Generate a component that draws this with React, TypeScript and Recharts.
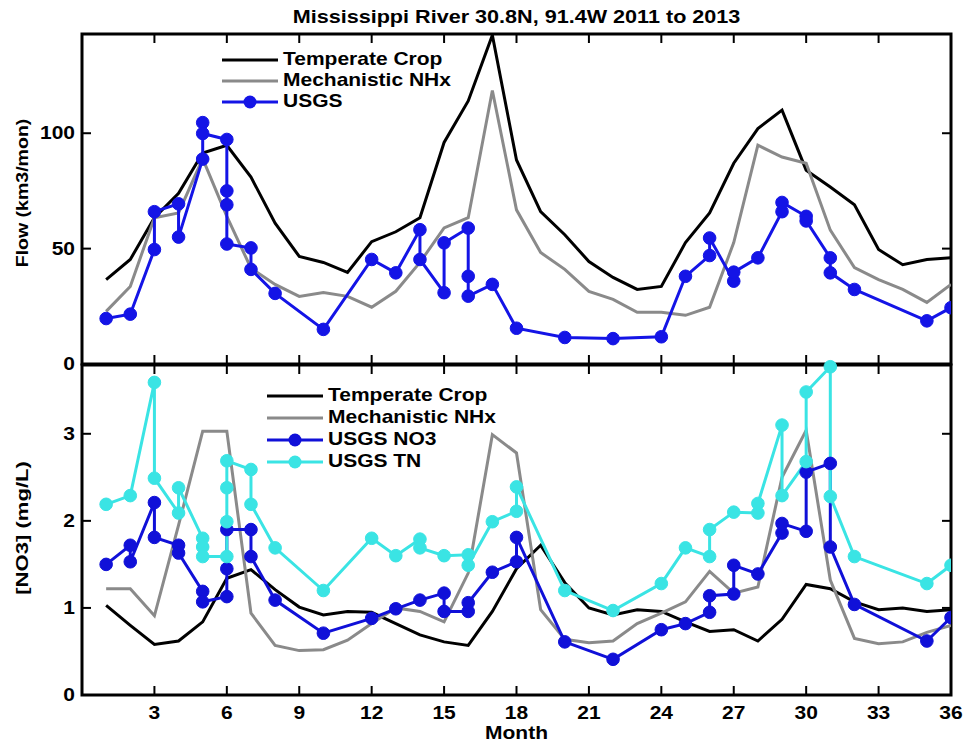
import React from 'react';
import { LineChart, Line, XAxis, YAxis } from 'recharts';

// ---------- data ----------
const months = [1, 2, 3, 4, 5, 6, 7, 8, 9, 10, 11, 12, 13, 14, 15, 16, 17, 18, 19, 20, 21, 22, 23, 24, 25, 26, 27, 28, 29, 30, 31, 32, 33, 34, 35, 36];

const flowTemperateCrop = [36.6, 45.3, 63.4, 74, 91.4, 94.8, 81, 61, 46.6, 44, 39.7, 53, 57.3, 63.4, 96, 114, 142.5, 88.4, 66, 56, 44.4, 37.5, 32.3, 33.6, 52.6, 65.5, 87, 102, 110, 84, 76.7, 69, 49.6, 43, 45.3, 46];
const flowMechanisticNHx = [22.8, 33.6, 63.4, 65.5, 89, 64, 41.5, 34.5, 29.3, 31, 29.3, 24.6, 31.5, 44, 59, 63.4, 118.5, 66.8, 48.3, 41, 31.5, 28, 22.4, 22.4, 21.1, 24.6, 52.6, 94.8, 89.7, 87, 58, 41.8, 36.6, 32.3, 26.7, 34.5];
const flowUsgsMonth = [1, 2, 3, 3, 4, 4, 5, 5, 5, 6, 6, 6, 6, 7, 7, 8, 10, 12, 13, 14, 14, 15, 15, 16, 16, 16, 17, 18, 20, 22, 24, 25, 26, 26, 27, 27, 28, 29, 29, 30, 30, 31, 31, 32, 35, 36];
const flowUsgsValue = [19.7, 21.6, 49.6, 66, 69.4, 55, 88.8, 104.6, 99.9, 97.3, 75, 69, 52, 50.3, 41, 30.6, 15, 45.3, 39.5, 58.2, 45.3, 30.9, 52.5, 58.9, 38, 29.4, 34.5, 15.5, 11.5, 11, 11.8, 38, 47, 54.6, 35.9, 39.8, 46, 66, 70, 64, 62, 46, 39.5, 32.3, 18.7, 24.4];

const no3TemperateCrop = [1.03, 0.8, 0.58, 0.62, 0.84, 1.34, 1.44, 1.21, 1.01, 0.92, 0.96, 0.95, 0.82, 0.69, 0.61, 0.57, 0.96, 1.45, 1.72, 1.29, 1.0, 0.92, 0.98, 0.96, 0.84, 0.73, 0.75, 0.62, 0.87, 1.27, 1.22, 1.07, 0.98, 1.0, 0.96, 0.98];
const no3MechanisticNHx = [1.22, 1.22, 0.91, 1.95, 3.03, 3.03, 0.94, 0.57, 0.51, 0.52, 0.63, 0.82, 1.0, 0.96, 0.84, 1.4, 2.99, 2.78, 0.98, 0.64, 0.6, 0.62, 0.82, 0.94, 1.07, 1.42, 1.17, 1.24, 2.5, 3.04, 1.32, 0.65, 0.59, 0.61, 0.72, 0.8];
const no3UsgsMonth = [1, 2, 2, 3, 3, 4, 4, 5, 5, 6, 6, 6, 7, 7, 8, 10, 12, 13, 14, 15, 15, 16, 16, 17, 18, 18, 20, 22, 24, 25, 26, 26, 27, 27, 28, 29, 29, 30, 30, 31, 31, 32, 35, 36];
const no3UsgsValue = [1.5, 1.72, 1.53, 2.21, 1.81, 1.72, 1.63, 1.19, 1.07, 1.13, 1.45, 1.9, 1.9, 1.59, 1.09, 0.71, 0.88, 0.99, 1.09, 1.17, 0.96, 0.96, 1.06, 1.41, 1.53, 1.81, 0.61, 0.41, 0.75, 0.82, 0.95, 1.14, 1.16, 1.49, 1.39, 1.86, 1.97, 1.88, 2.56, 2.66, 1.7, 1.04, 0.62, 0.89];
const tnUsgsMonth = [1, 2, 3, 3, 4, 4, 5, 5, 5, 6, 6, 6, 6, 7, 7, 8, 10, 12, 13, 14, 14, 15, 16, 16, 17, 18, 18, 20, 22, 24, 25, 26, 26, 27, 28, 28, 29, 29, 30, 30, 31, 31, 32, 35, 36];
const tnUsgsValue = [2.19, 2.29, 3.59, 2.49, 2.09, 2.38, 1.8, 1.7, 1.59, 1.59, 1.99, 2.38, 2.69, 2.59, 2.19, 1.69, 1.2, 1.8, 1.6, 1.79, 1.69, 1.6, 1.61, 1.49, 1.99, 2.11, 2.39, 1.2, 0.97, 1.28, 1.69, 1.59, 1.9, 2.1, 2.09, 2.2, 3.1, 2.29, 2.68, 3.48, 3.77, 2.28, 1.59, 1.28, 1.49];

const monthTicks = [3, 6, 9, 12, 15, 18, 21, 24, 27, 30, 33, 36];
const flowTicks = [0, 50, 100];
const no3Ticks = [0, 1, 2, 3];

const titleText = 'Mississippi River 30.8N, 91.4W 2011 to 2013';
const xTitle = 'Month';
const flowTitle = 'Flow (km3/mon)';
const no3Title = '[NO3] (mg/L)';
const flowNames = ['Temperate Crop', 'Mechanistic NHx', 'USGS'];
const no3Names = ['Temperate Crop', 'Mechanistic NHx', 'USGS NO3', 'USGS TN'];

// ---------- derived tables ----------
const toRows = (ms: number[], vs: number[]) => ms.map((m, i) => ({ m, v: vs[i] }));
const flowCropRows = toRows(months, flowTemperateCrop);
const flowMechRows = toRows(months, flowMechanisticNHx);
const flowUsgsRows = toRows(flowUsgsMonth, flowUsgsValue);
const no3CropRows = toRows(months, no3TemperateCrop);
const no3MechRows = toRows(months, no3MechanisticNHx);
const no3UsgsRows = toRows(no3UsgsMonth, no3UsgsValue);
const tnUsgsRows = toRows(tnUsgsMonth, tnUsgsValue);

// ---------- layout / style ----------
const W = 973;
const H = 745;
const PL = 82;
const PR = 951;
const TOP1 = 34;
const BOT1 = 364;
const TOP2 = 365;
const BOT2 = 695;
const FONT = '"Liberation Sans", Arial, Helvetica, sans-serif';
const SX = 1.2;
const TICK = 9;

const C_CROP = '#000000';
const C_MECH = '#8a8a8a';
const C_USGS = '#1414e6';
const C_NO3 = '#1010d8';
const C_TN = '#3ae4e4';

function SText({ x, y, children, anchor = 'middle', size = 17.5, rotate = 0, sx = SX }: any) {
  return (
    <text
      transform={`translate(${x} ${y}) rotate(${rotate}) scale(${sx} 1)`}
      x={0}
      y={0}
      textAnchor={anchor}
      dominantBaseline="central"
      fontFamily={FONT}
      fontWeight="bold"
      fontSize={size}
      fill="#000"
    >
      {children}
    </text>
  );
}

const makeXTick = (panelTop: number, panelBottom: number, withLabel: boolean) => (props: any) => {
  const { x, payload } = props;
  return (
    <g>
      <line x1={x} x2={x} y1={panelBottom} y2={panelBottom - TICK} stroke="#000" strokeWidth={2} />
      <line x1={x} x2={x} y1={panelTop} y2={panelTop + TICK} stroke="#000" strokeWidth={2} />
      {withLabel && (
        <SText x={x} y={panelBottom + 18}>
          {payload.value}
        </SText>
      )}
    </g>
  );
};

const makeYTick = () => (props: any) => {
  const { y, payload } = props;
  return (
    <g>
      <line x1={PL} x2={PL + TICK} y1={y} y2={y} stroke="#000" strokeWidth={2} />
      <line x1={PR} x2={PR - TICK} y1={y} y2={y} stroke="#000" strokeWidth={2} />
      <SText x={PL - 7} y={y} anchor="end">
        {payload.value}
      </SText>
    </g>
  );
};

function LegendBlock({ x, y, gap, names, colors, markers }: any) {
  return (
    <g>
      {names.map((n: string, i: number) => {
        const yy = y + i * gap;
        return (
          <g key={n + i}>
            <line x1={x} x2={x + 56} y1={yy} y2={yy} stroke={colors[i]} strokeWidth={3} />
            {markers[i] && <circle cx={x + 28} cy={yy} r={6.5} fill={colors[i]} />}
            <SText x={x + 61} y={yy - 1} anchor="start">
              {n}
            </SText>
          </g>
        );
      })}
    </g>
  );
}

const dot = (c: string) => ({ r: 6.3, fill: c, stroke: c, strokeWidth: 1 });

export default function App() {
  return (
    <div style={{ position: 'absolute', left: 0, top: 0, width: W, height: H, background: '#fff' }}>
      <svg width={W} height={H} style={{ position: 'absolute', left: 0, top: 0 }}>
        <rect x={PL} y={TOP1} width={PR - PL} height={BOT1 - TOP1} fill="none" stroke="#000" strokeWidth={3} />
        <rect x={PL} y={TOP2} width={PR - PL} height={BOT2 - TOP2} fill="none" stroke="#000" strokeWidth={3} />
      </svg>

      <div style={{ position: 'absolute', left: 0, top: 0 }}>
        <LineChart width={W} height={H} margin={{ top: TOP1, right: W - PR, bottom: H - BOT1 - 2, left: PL - 2 }}>
          <XAxis
            type="number"
            dataKey="m"
            domain={[0, 36]}
            ticks={monthTicks}
            interval={0}
            height={2}
            tickSize={0}
            tickMargin={0}
            axisLine={false}
            tickLine={false}
            tick={makeXTick(TOP1, BOT1, false)}
            allowDataOverflow
          />
          <YAxis
            type="number"
            domain={[0, 143]}
            ticks={flowTicks}
            interval={0}
            width={2}
            tickSize={0}
            tickMargin={0}
            axisLine={false}
            tickLine={false}
            tick={makeYTick()}
            allowDataOverflow
          />
          <Line data={flowCropRows} dataKey="v" name={flowNames[0]} stroke={C_CROP} strokeWidth={3} dot={false} isAnimationActive={false} />
          <Line data={flowMechRows} dataKey="v" name={flowNames[1]} stroke={C_MECH} strokeWidth={3} dot={false} isAnimationActive={false} />
          <Line data={flowUsgsRows} dataKey="v" name={flowNames[2]} stroke={C_USGS} strokeWidth={3} dot={dot(C_USGS)} isAnimationActive={false} />
        </LineChart>
      </div>

      <div style={{ position: 'absolute', left: 0, top: 0 }}>
        <LineChart width={W} height={H} margin={{ top: TOP2, right: W - PR, bottom: H - BOT2 - 2, left: PL - 2 }}>
          <XAxis
            type="number"
            dataKey="m"
            domain={[0, 36]}
            ticks={monthTicks}
            interval={0}
            height={2}
            tickSize={0}
            tickMargin={0}
            axisLine={false}
            tickLine={false}
            tick={makeXTick(TOP2, BOT2, true)}
            allowDataOverflow
          />
          <YAxis
            type="number"
            domain={[0, 3.79]}
            ticks={no3Ticks}
            interval={0}
            width={2}
            tickSize={0}
            tickMargin={0}
            axisLine={false}
            tickLine={false}
            tick={makeYTick()}
          />
          <Line data={no3CropRows} dataKey="v" name={no3Names[0]} stroke={C_CROP} strokeWidth={3} dot={false} isAnimationActive={false} />
          <Line data={no3MechRows} dataKey="v" name={no3Names[1]} stroke={C_MECH} strokeWidth={3} dot={false} isAnimationActive={false} />
          <Line data={no3UsgsRows} dataKey="v" name={no3Names[2]} stroke={C_NO3} strokeWidth={3} dot={dot(C_NO3)} isAnimationActive={false} />
          <Line data={tnUsgsRows} dataKey="v" name={no3Names[3]} stroke={C_TN} strokeWidth={3} dot={dot(C_TN)} isAnimationActive={false} />
        </LineChart>
      </div>

      <svg width={W} height={H} style={{ position: 'absolute', left: 0, top: 0, pointerEvents: 'none' }}>
        <SText x={(PL + PR) / 2} y={17} size={18}>
          {titleText}
        </SText>
        <SText x={(PL + PR) / 2} y={733}>
          {xTitle}
        </SText>
        <SText x={22} y={193} rotate={-90} size={17} sx={1.15}>
          {flowTitle}
        </SText>
        <SText x={22} y={528} rotate={-90} size={17} sx={1.3}>
          {no3Title}
        </SText>
        <LegendBlock x={222} y={60} gap={21} names={flowNames} colors={[C_CROP, C_MECH, C_USGS]} markers={[false, false, true]} />
        <LegendBlock x={267} y={396} gap={22} names={no3Names} colors={[C_CROP, C_MECH, C_NO3, C_TN]} markers={[false, false, true, true]} />
      </svg>
    </div>
  );
}
